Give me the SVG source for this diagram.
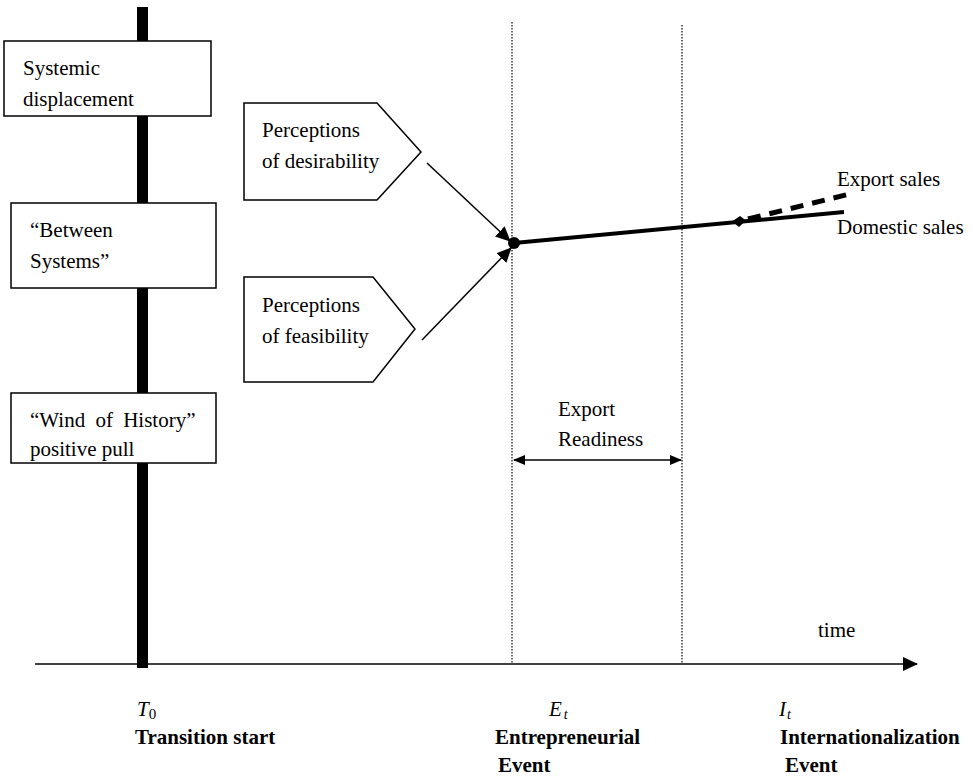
<svg xmlns="http://www.w3.org/2000/svg" width="973" height="778" viewBox="0 0 973 778">
<style>
text { font-family: "Liberation Serif", "Times New Roman", Tinos, serif; font-size: 21px; fill: #000; }
.b { font-weight: bold; }
.i { font-style: italic; }
.box { fill: #fff; stroke: #000; stroke-width: 1.5; }
.dot { stroke: #000; stroke-width: 1.2; stroke-dasharray: 1.5 1.5; fill: none; }
.thin { stroke: #000; stroke-width: 1.5; fill: none; }
</style>
<defs>
<marker id="ah" markerWidth="12" markerHeight="10" refX="11" refY="5" orient="auto" markerUnits="userSpaceOnUse" viewBox="0 0 12 10">
<path d="M0,0 L12,5 L0,10 Z" fill="#000"/>
</marker>
<marker id="ahs" markerWidth="12" markerHeight="10" refX="11" refY="5" orient="auto-start-reverse" markerUnits="userSpaceOnUse" viewBox="0 0 12 10">
<path d="M0,0 L12,5 L0,10 Z" fill="#000"/>
</marker>
<marker id="ahb" markerWidth="15" markerHeight="14" refX="14" refY="7" orient="auto" markerUnits="userSpaceOnUse" viewBox="0 0 15 14">
<path d="M0,0 L15,7 L0,14 Z" fill="#000"/>
</marker>
</defs>

<g id="guides">
<line class="dot" x1="512" y1="22" x2="512" y2="663"/>
<line class="dot" x1="682" y1="25" x2="682" y2="663"/>
</g>

<g id="axis">
<line class="thin" x1="35" y1="664" x2="917" y2="664" marker-end="url(#ahb)"/>
<text x="818" y="637">time</text>
</g>

<g id="transition-bar">
<rect x="137" y="7" width="11" height="661" fill="#000"/>
</g>

<g id="box-systemic">
<rect class="box" x="4" y="41" width="207" height="75"/>
<text x="23" y="75">Systemic</text>
<text x="23" y="106">displacement</text>
</g>

<g id="box-between">
<rect class="box" x="11" y="203" width="205" height="85"/>
<text x="30" y="237">“Between</text>
<text x="30" y="268">Systems”</text>
</g>

<g id="box-wind">
<rect class="box" x="11" y="393" width="205" height="70"/>
<text x="30" y="427" word-spacing="5">“Wind of History”</text>
<text x="30" y="456">positive pull</text>
</g>

<g id="desirability">
<path class="box" d="M244,103 L377,103 L421,152 L377,200 L244,200 Z"/>
<text x="262" y="137">Perceptions</text>
<text x="262" y="168">of desirability</text>
</g>

<g id="feasibility">
<path class="box" d="M244,277 L373,277 L415,329 L373,382 L244,382 Z"/>
<text x="262" y="312">Perceptions</text>
<text x="262" y="343">of feasibility</text>
</g>

<g id="connectors">
<line class="thin" x1="427" y1="163" x2="510" y2="241" marker-end="url(#ahb)"/>
<line class="thin" x1="422" y1="340" x2="511" y2="248" marker-end="url(#ahb)"/>
<line class="thin" x1="514" y1="460" x2="681" y2="460" marker-start="url(#ahs)" marker-end="url(#ah)"/>
</g>

<g id="sales">
<circle cx="514" cy="243" r="6" fill="#000"/>
<line x1="514" y1="243" x2="844" y2="212" stroke="#000" stroke-width="4"/>
<line x1="748" y1="219" x2="854" y2="193" stroke="#000" stroke-width="5" stroke-dasharray="13 9"/>
<path d="M732,221.5 L740,216 L746,220.5 L739,227 Z" fill="#000"/>
<text x="837" y="186">Export sales</text>
<text x="837" y="234">Domestic sales</text>
</g>

<g id="export-readiness">
<text x="558" y="416">Export</text>
<text x="558" y="446">Readiness</text>
</g>

<g id="labels">
<text x="137" y="716"><tspan class="i">T</tspan><tspan font-size="15" dy="3">0</tspan></text>
<text class="b" x="135" y="744">Transition start</text>
<text x="549" y="716"><tspan class="i">E</tspan><tspan class="i" font-size="14" dy="3" dx="2">t</tspan></text>
<text class="b" x="495" y="744">Entrepreneurial</text>
<text class="b" x="498" y="772">Event</text>
<text x="779" y="716"><tspan class="i">I</tspan><tspan class="i" font-size="14" dy="3" dx="1">t</tspan></text>
<text class="b" x="780" y="744">Internationalization</text>
<text class="b" x="785" y="772">Event</text>
</g>
</svg>
